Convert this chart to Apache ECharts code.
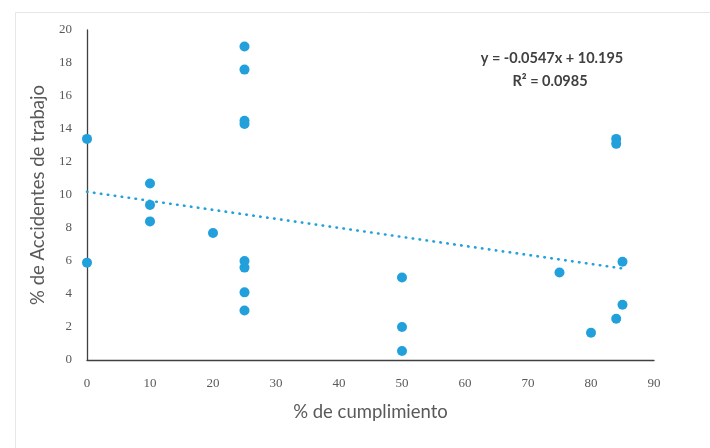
<!DOCTYPE html>
<html><head><meta charset="utf-8">
<script src="https://cdn.jsdelivr.net/npm/echarts@6/dist/echarts.min.js"></script>
<style>html,body{margin:0;padding:0;background:#fff}#c{width:710px;height:448px}</style>
</head><body><div id="c"></div>
<script>
const xValues = [0, 0, 10, 10, 10, 20, 25, 25, 25, 25, 25, 25, 25, 25, 50, 50, 50, 75, 80, 84, 84, 84, 85, 85];
const yValues = [13.4, 5.9, 10.7, 9.4, 8.4, 7.7, 19.0, 17.6, 14.5, 14.3, 6.0, 5.6, 4.1, 3.0, 5.0, 2.0, 0.55, 5.3, 1.65, 2.5, 13.4, 13.1, 5.95, 3.35];
const slope = -0.0547;
const intercept = 10.195;
const rSquared = 0.0985;
const trendX = [0, 85];
const xTicks = [0, 10, 20, 30, 40, 50, 60, 70, 80, 90];
const yTicks = [0, 2, 4, 6, 8, 10, 12, 14, 16, 18, 20];

const points = xValues.map((x, i) => [x, yValues[i]]);
const trend = trendX.map(x => [x, slope * x + intercept]);

const chart = echarts.init(document.getElementById('c'));
chart.setOption({
  animation: false,
  backgroundColor: '#fff',
  grid: { left: 87, right: 56, top: 30, bottom: 88 },
  xAxis: {
    type: 'value', min: 0, max: 90, interval: 10,
    name: '% de cumplimiento', nameLocation: 'middle', nameGap: 43,
    nameTextStyle: { fontFamily: 'Lato', fontSize: 18.5, color: '#595959' },
    axisLine: { show: true, lineStyle: { color: '#404040', width: 1.3 } },
    axisTick: { show: false },
    splitLine: { show: false },
    axisLabel: { fontFamily: 'Liberation Serif', fontSize: 13, color: '#595959', margin: 17 }
  },
  yAxis: {
    type: 'value', min: 0, max: 20, interval: 2,
    name: '% de Accidentes de trabajo', nameLocation: 'middle', nameGap: 39,
    nameTextStyle: { fontFamily: 'Lato', fontSize: 18.5, color: '#595959' },
    axisLine: { show: true, lineStyle: { color: '#404040', width: 1.3 } },
    axisTick: { show: false },
    splitLine: { show: false },
    axisLabel: { fontFamily: 'Liberation Serif', fontSize: 13, color: '#595959', margin: 15 }
  },
  graphic: [
    { type: 'rect', left: 13, top: 10, shape: { width: 700, height: 445 }, style: { fill: 'none', stroke: '#e6e6e6', lineWidth: 1 }, silent: true, z: -10 },
    { type: 'text', x: 552, y: 58, style: { text: 'y = -0.0547x + 10.195', fontFamily: 'Lato', fontSize: 14.5, fontWeight: 'bold', fill: '#404040', align: 'center', verticalAlign: 'middle' } },
    { type: 'text', x: 550, y: 81, style: { text: 'R² = ' + rSquared, fontFamily: 'Lato', fontSize: 14.5, fontWeight: 'bold', fill: '#404040', align: 'center', verticalAlign: 'middle' } }
  ],
  series: [
    {
      type: 'line', data: trend, symbol: 'none', silent: true,
      lineStyle: { color: '#22a0dc', width: 2.6, type: [0.5, 6.5], cap: 'round' }, z: 1
    },
    {
      type: 'scatter', data: points, symbolSize: 10,
      itemStyle: { color: '#22a0dc', opacity: 1 }, z: 2
    }
  ]
});
</script></body></html>
